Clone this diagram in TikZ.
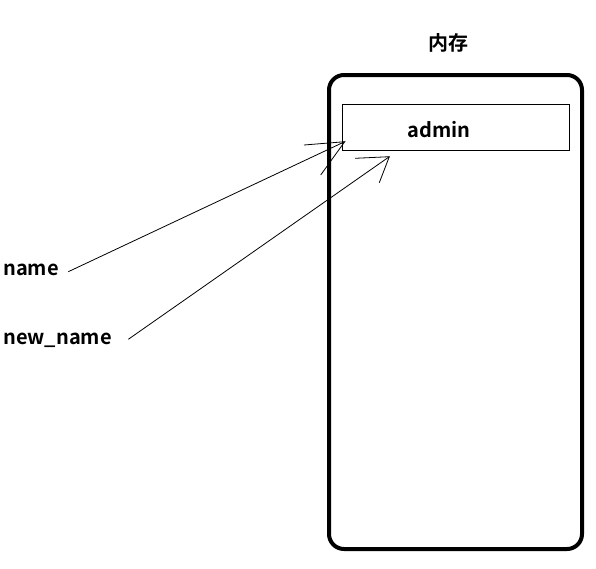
\documentclass[tikz,border=0pt]{standalone}
\usepackage{fontspec}
\setmainfont{Noto Sans CJK SC}[BoldFont={Noto Sans CJK SC Bold}]
\begin{document}
\begin{tikzpicture}[x=1pt,y=-1pt,
  lbl/.style={font=\bfseries\fontsize{20}{24}\selectfont, inner sep=0pt},
  thinline/.style={line width=0.8pt},
]
\useasboundingbox (0,0) rectangle (596,568);
% memory box
\draw[line width=4pt, rounded corners=15pt] (329,75) rectangle (582,549);
\node[lbl] (mem) at (448,43) {内存};
\node[draw, thinline, minimum width=227pt, minimum height=46pt, anchor=north west, inner sep=0pt] (cell) at (342,104) {};
\node[lbl] (admin) at (439,130) {admin};
% variable labels
\node[lbl, anchor=west] (name) at (3,270) {name};
\node[lbl, anchor=west] (newname) at (3,340) {new\_name};
% arrow 1
\coordinate (s1) at (68.3,271.7);
\coordinate (t1) at (344.7,141.7);
\coordinate (b1a) at (304,145);
\coordinate (b1b) at (320.7,175);
\draw[thinline] (s1) -- (t1);
\draw[thinline] (b1a) -- (t1) -- (b1b);
% arrow 2
\coordinate (s2) at (128.3,339.3);
\coordinate (t2) at (389.3,156.7);
\coordinate (b2a) at (355,158.3);
\coordinate (b2b) at (379.3,182.7);
\draw[thinline] (s2) -- (t2);
\draw[thinline] (b2a) -- (t2) -- (b2b);
\end{tikzpicture}
\end{document}
